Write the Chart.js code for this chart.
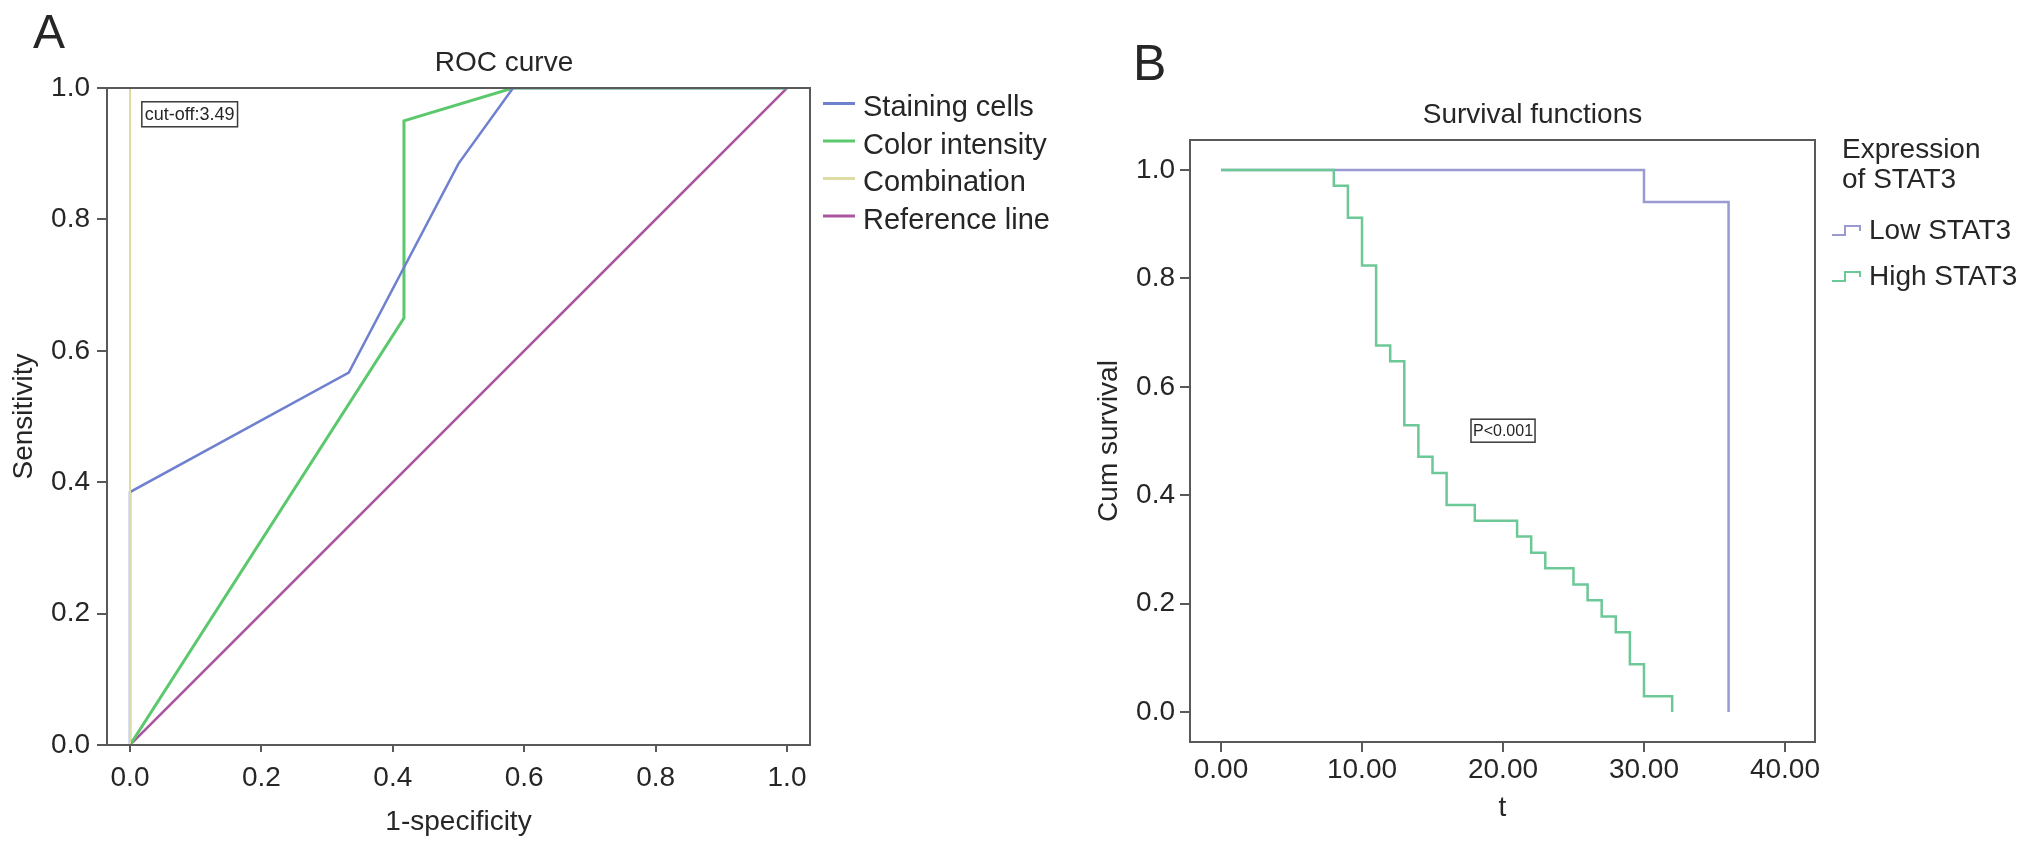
<!DOCTYPE html>
<html><head><meta charset="utf-8">
<script src="https://cdn.jsdelivr.net/npm/chart.js@4.4.1/dist/chart.umd.min.js"></script>
<style>
html,body{margin:0;padding:0;background:#fff;width:2032px;height:851px;overflow:hidden}
#ca{position:absolute;left:0;top:0}
#cb{position:absolute;left:1080px;top:0}
</style></head><body>
<canvas id="ca" width="1080" height="851"></canvas>
<canvas id="cb" width="952" height="851"></canvas>
<script>
// ---------- Panel A: ROC curve ----------
const rocTitle = 'ROC curve';
const rocSeriesNames = ['Staining cells', 'Color intensity', 'Combination', 'Reference line'];
const stainingX = [0, 0, 0.333, 0.5, 0.583, 1];
const stainingY = [0, 0.385, 0.567, 0.885, 1, 1];
const intensityX = [0, 0.417, 0.417, 0.583, 1];
const intensityY = [0, 0.65, 0.95, 1, 1];
const combinationX = [0, 0, 1];
const combinationY = [0, 1, 1];
const referenceX = [0, 1];
const referenceY = [0, 1];
const rocTicks = [0, 0.2, 0.4, 0.6, 0.8, 1.0];
const rocTickLabels = ['0.0', '0.2', '0.4', '0.6', '0.8', '1.0'];
const rocXTitle = '1-specificity';
const rocYTitle = 'Sensitivity';
const cutoffLabel = 'cut-off:3.49';

// ---------- Panel B: Survival functions ----------
const kmTitle = 'Survival functions';
const kmLegendTitle = ['Expression', 'of STAT3'];
const kmGroups = ['Low STAT3', 'High STAT3'];
const lowT = [0, 30, 36];
const lowS = [1, 0.941, 0];
const highT = [0, 8, 9, 10, 11, 12, 13, 14, 15, 16, 18, 21, 22, 23, 25, 26, 27, 28, 29, 30, 32];
const highS = [1, 0.971, 0.912, 0.824, 0.676, 0.647, 0.529, 0.471, 0.441, 0.382, 0.353, 0.324, 0.294, 0.265, 0.235, 0.206, 0.176, 0.147, 0.088, 0.029, 0];
const kmXTicks = [0, 10, 20, 30, 40];
const kmXTickLabels = ['0.00', '10.00', '20.00', '30.00', '40.00'];
const kmYTicks = [0, 0.2, 0.4, 0.6, 0.8, 1.0];
const kmYTickLabels = ['0.0', '0.2', '0.4', '0.6', '0.8', '1.0'];
const kmXTitle = 't';
const kmYTitle = 'Cum survival';
const pLabel = 'P<0.001';

// ---------- styling ----------
const FONT = "'Liberation Sans', Arial, Helvetica, sans-serif";
const TXT = '#262626';
const AX = '#595959';
Chart.defaults.font.family = FONT;
Chart.defaults.color = TXT;

function pts(xs, ys) { return xs.map((x, i) => ({ x: x, y: ys[i] })); }

const decoPlugin = {
  id: 'deco',
  afterDatasetsDraw(chart, args, o) {
    const ctx = chart.ctx, a = chart.chartArea;
    ctx.save();
    ctx.strokeStyle = AX; ctx.lineWidth = 2;
    ctx.strokeRect(a.left, a.top, a.right - a.left, a.bottom - a.top);
    ctx.restore();
  },
  afterDraw(chart, args, o) {
    const ctx = chart.ctx;
    ctx.save();
    ctx.fillStyle = TXT;
    ctx.textAlign = 'left'; ctx.textBaseline = 'alphabetic';
    ctx.font = o.letterSize + 'px ' + FONT;
    ctx.fillText(o.letter, o.letterX, o.letterY);
    ctx.textAlign = 'center';
    ctx.font = o.titleSize + 'px ' + FONT;
    ctx.fillText(o.title, o.titleX, o.titleY);
    // legend
    const L = o.legend;
    ctx.textAlign = 'left';
    ctx.font = L.size + 'px ' + FONT;
    (L.header || []).forEach((h, i) => ctx.fillText(h, L.headerX, L.headerY + i * L.headerDy));
    chart.data.datasets.forEach((ds, i) => {
      const b = L.y0 + i * L.dy;
      ctx.strokeStyle = ds.borderColor; ctx.lineWidth = L.lw;
      ctx.beginPath();
      if (L.symbol === 'step') {
        const x0 = L.x, x1 = L.x + 13, x2 = L.x + 28;
        ctx.moveTo(x0, b - 4); ctx.lineTo(x1, b - 4); ctx.lineTo(x1, b - 13);
        ctx.lineTo(x2, b - 13); ctx.lineTo(x2, b - 8);
      } else {
        ctx.moveTo(L.x, b - 12.5); ctx.lineTo(L.x + 32, b - 12.5);
      }
      ctx.stroke();
      ctx.fillStyle = TXT;
      ctx.fillText(ds.label, L.textX, b);
    });
    // annotation box placed in data units
    const N = o.note;
    const bx = chart.scales.x.getPixelForValue(N.x), by = chart.scales.y.getPixelForValue(N.y);
    ctx.font = N.size + 'px ' + FONT;
    const w = ctx.measureText(N.text).width + 2 * N.pad;
    ctx.fillStyle = '#fff';
    ctx.fillRect(bx, by - N.h / 2, w, N.h);
    ctx.strokeStyle = '#3a3a3a'; ctx.lineWidth = 1.5;
    ctx.strokeRect(bx, by - N.h / 2, w, N.h);
    ctx.fillStyle = TXT; ctx.textBaseline = 'middle';
    ctx.fillText(N.text, bx + N.pad, by + 1);
    ctx.restore();
  }
};

function axisX(min, max, ticks, labels, title, tl, pad, height, titlePad) {
  return {
    type: 'linear', min: min, max: max,
    afterBuildTicks: s => { s.ticks = ticks.map(v => ({ value: v })); },
    afterFit: s => { s.height = height; },
    ticks: { callback: (v, i) => labels[i], font: { size: 28 }, padding: pad, maxRotation: 0, autoSkip: false, color: TXT },
    grid: { drawOnChartArea: false, drawTicks: true, tickLength: tl, color: AX, lineWidth: 2 },
    border: { display: true, color: AX, width: 2 },
    title: { display: true, text: title, font: { size: 28 }, color: TXT, padding: titlePad }
  };
}
function axisY(min, max, ticks, labels, title, tl, pad, width, titlePad) {
  return {
    type: 'linear', min: min, max: max,
    afterBuildTicks: s => { s.ticks = ticks.map(v => ({ value: v })); },
    afterFit: s => { s.width = width; },
    ticks: { callback: (v, i) => labels[i], font: { size: 28 }, padding: pad, autoSkip: false, color: TXT },
    grid: { drawOnChartArea: false, drawTicks: true, tickLength: tl, color: AX, lineWidth: 2 },
    border: { display: true, color: AX, width: 2 },
    title: { display: true, text: title, font: { size: 28 }, color: TXT, padding: titlePad }
  };
}

const lineDefaults = { pointRadius: 0, fill: false, tension: 0, borderWidth: 2.5 };

new Chart(document.getElementById('ca'), {
  type: 'line',
  data: {
    datasets: [
      Object.assign({ label: rocSeriesNames[0], data: pts(stainingX, stainingY), borderColor: '#6f80cf', order: 1 }, lineDefaults),
      Object.assign({ label: rocSeriesNames[1], data: pts(intensityX, intensityY), borderColor: '#5cc86d', order: 2 }, lineDefaults, { borderWidth: 3 }),
      Object.assign({ label: rocSeriesNames[2], data: pts(combinationX, combinationY), borderColor: '#dcdca4', order: 0 }, lineDefaults, { borderWidth: 2 }),
      Object.assign({ label: rocSeriesNames[3], data: pts(referenceX, referenceY), borderColor: '#ab55a0', order: 3 }, lineDefaults)
    ]
  },
  options: {
    responsive: false, animation: false, devicePixelRatio: 1,
    layout: { padding: { left: 0, top: 88, right: 270, bottom: 0 } },
    scales: {
      x: axisX(-0.035, 1.035, rocTicks, rocTickLabels, rocXTitle, 7, 9, 106, { top: 0, bottom: 12 }),
      y: axisY(0, 1, rocTicks, rocTickLabels, rocYTitle, 10, 7, 107, { top: 7, bottom: 0 })
    },
    plugins: {
      legend: { display: false }, tooltip: { enabled: false },
      deco: {
        letter: 'A', letterSize: 48, letterX: 33, letterY: 48,
        title: rocTitle, titleSize: 28, titleX: 504, titleY: 71,
        legend: { size: 29, x: 823, textX: 863, y0: 116, dy: 37.5, lw: 3, symbol: 'line' },
        note: { text: cutoffLabel, x: 0.018, y: 0.96, size: 18, pad: 3, h: 25 }
      }
    }
  },
  plugins: [decoPlugin]
});

new Chart(document.getElementById('cb'), {
  type: 'line',
  data: {
    datasets: [
      Object.assign({ label: kmGroups[0], data: pts(lowT, lowS), borderColor: '#9a9ad2', stepped: 'before', order: 1 }, lineDefaults),
      Object.assign({ label: kmGroups[1], data: pts(highT, highS), borderColor: '#6cc896', stepped: 'before', order: 0 }, lineDefaults)
    ]
  },
  options: {
    responsive: false, animation: false, devicePixelRatio: 1,
    layout: { padding: { left: 0, top: 140, right: 217, bottom: 0 } },
    scales: {
      x: axisX(-2.2, 42.13, kmXTicks, kmXTickLabels, kmXTitle, 10, 1, 109, { top: 0, bottom: 26 }),
      y: axisY(-0.0554, 1.0554, kmYTicks, kmYTickLabels, kmYTitle, 10, 5, 110, { top: 12, bottom: 0 })
    },
    plugins: {
      legend: { display: false }, tooltip: { enabled: false },
      deco: {
        letter: 'B', letterSize: 50, letterX: 53, letterY: 80,
        title: kmTitle, titleSize: 28, titleX: 452.5, titleY: 123,
        legend: { size: 28, header: kmLegendTitle, headerX: 762, headerY: 158, headerDy: 30,
                  x: 752, textX: 789, y0: 239, dy: 46, lw: 2, symbol: 'step' },
        note: { text: pLabel, x: 17.73, y: 0.519, size: 16, pad: 2, h: 23 }
      }
    }
  },
  plugins: [decoPlugin]
});
</script>
</body></html>
